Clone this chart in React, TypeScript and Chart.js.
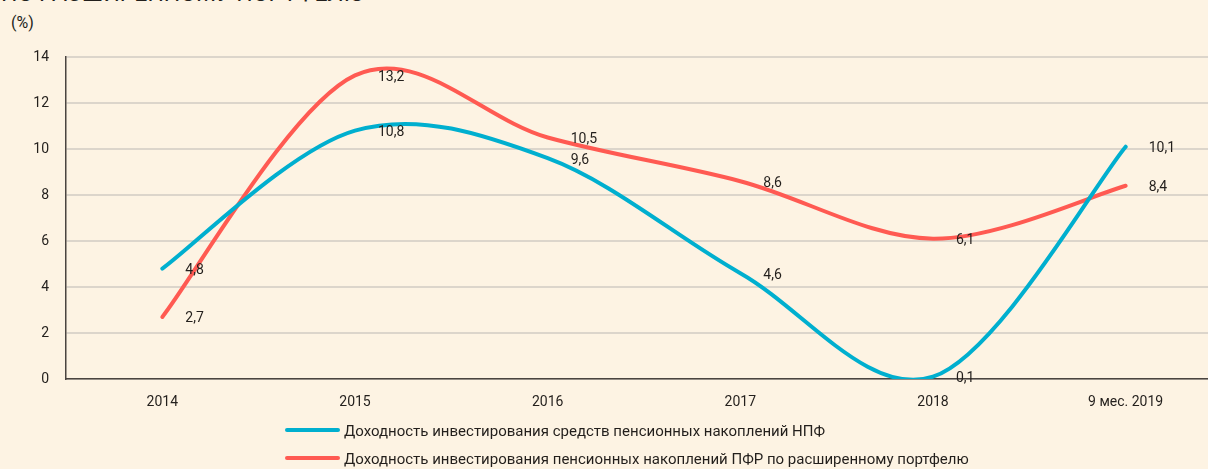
import React, { useEffect, useRef } from "react";
import { Chart, registerables } from "chart.js";

Chart.register(...registerables);

const categories = ["2014", "2015", "2016", "2017", "2018", "9 мес. 2019"];
const npfValues = [4.8, 10.8, 9.6, 4.6, 0.1, 10.1];
const pfrValues = [2.7, 13.2, 10.5, 8.6, 6.1, 8.4];
const seriesNames = [
  "Доходность инвестирования средств пенсионных накоплений НПФ",
  "Доходность инвестирования пенсионных накоплений ПФР по расширенному портфелю",
];
const seriesColors = ["#00AFCF", "#FF5A52"];
const yMin = 0;
const yMax = 14;
const yStep = 2;
const titleText = "ПО РАСШИРЕННОМУ ПОРТФЕЛЮ";
const unitText = "(%)";

const BG = "#FDF3E3";
const FONT = "Roboto, 'Noto Sans', sans-serif";

// Uniform Catmull-Rom smoothing (spreadsheet-style smoothed lines),
// applied to the points Chart.js has already placed on its scales.
const smoothLines = {
  id: "smoothLines",
  beforeDatasetsDraw(chart: any) {
    chart.data.datasets.forEach((_ds: any, i: number) => {
      const meta = chart.getDatasetMeta(i);
      const pts = meta.data;
      const n = pts.length;
      for (let j = 0; j < n; j++) {
        const p = pts[j];
        const prev = pts[Math.max(0, j - 1)];
        const next = pts[Math.min(n - 1, j + 1)];
        const tx = (next.x - prev.x) / 6;
        const ty = (next.y - prev.y) / 6;
        p.cp1x = p.x - tx;
        p.cp1y = p.y - ty;
        p.cp2x = p.x + tx;
        p.cp2y = p.y + ty;
      }
      if (meta.dataset) {
        meta.dataset._pointsUpdated = true;
        meta.dataset._path = undefined;
      }
    });
  },
};

const valueLabels = {
  id: "valueLabels",
  afterDatasetsDraw(chart: any) {
    const ctx = chart.ctx;
    ctx.save();
    ctx.font = `14px ${FONT}`;
    ctx.fillStyle = "#231F1C";
    ctx.textAlign = "left";
    ctx.textBaseline = "middle";
    chart.data.datasets.forEach((ds: any, i: number) => {
      const meta = chart.getDatasetMeta(i);
      meta.data.forEach((pt: any, j: number) => {
        const v = ds.data[j] as number;
        ctx.fillText(v.toFixed(1).replace(".", ","), pt.x + 23, pt.y + 2);
      });
    });
    ctx.restore();
  },
};

export default function App() {
  const ref = useRef<HTMLCanvasElement | null>(null);

  useEffect(() => {
    document.body.style.margin = "0";
    document.body.style.background = BG;
    const canvas = ref.current;
    if (!canvas) return;
    const lineStyle = {
      borderWidth: 4,
      tension: 0.4,
      pointRadius: 0,
      borderCapStyle: "round" as const,
      borderJoinStyle: "round" as const,
      fill: false,
    };
    const chart = new Chart(canvas, {
      type: "line",
      data: {
        labels: categories,
        datasets: [
          {
            label: seriesNames[0],
            data: npfValues,
            borderColor: seriesColors[0],
            backgroundColor: seriesColors[0],
            ...lineStyle,
          },
          {
            label: seriesNames[1],
            data: pfrValues,
            borderColor: seriesColors[1],
            backgroundColor: seriesColors[1],
            ...lineStyle,
          },
        ],
      },
      options: {
        responsive: false,
        animation: false,
        events: [],
        layout: { padding: { top: 57, bottom: 50, left: 0, right: 0 } },
        plugins: {
          legend: { display: false },
          tooltip: { enabled: false },
          title: { display: false },
        },
        scales: {
          x: {
            type: "category",
            offset: true,
            grid: { display: false, drawTicks: false },
            border: { display: true, color: "#4A4440", width: 1.5 },
            ticks: {
              padding: 15,
              color: "#231F1C",
              font: { family: FONT, size: 14 },
              maxRotation: 0,
              autoSkip: false,
            },
            afterFit: (scale: any) => {
              scale.height = 40;
            },
          },
          y: {
            min: yMin,
            max: yMax,
            ticks: {
              stepSize: yStep,
              padding: 17,
              color: "#231F1C",
              font: { family: FONT, size: 14 },
            },
            grid: { color: "#DCD5CB", lineWidth: 2, drawTicks: false },
            border: { display: true, color: "#4A4440", width: 1.5 },
            afterFit: (scale: any) => {
              scale.width = 66;
            },
          },
        },
      },
      plugins: [smoothLines, valueLabels],
    });
    return () => chart.destroy();
  }, []);

  return (
    <div
      style={{
        position: "fixed",
        left: 0,
        top: 0,
        width: 1208,
        height: 469,
        overflow: "hidden",
        background: BG,
        fontFamily: FONT,
        color: "#231F1C",
      }}
    >
      <div
        style={{
          position: "absolute",
          left: 1,
          top: -18,
          fontSize: 23,
          lineHeight: "24px",
          whiteSpace: "nowrap",
        }}
      >
        {titleText}
      </div>
      <div
        style={{
          position: "absolute",
          left: 11,
          top: 13,
          fontSize: 16,
          lineHeight: "20px",
        }}
      >
        {unitText}
      </div>
      <canvas
        ref={ref}
        width={1222}
        height={469}
        style={{ position: "absolute", left: 0, top: 0, width: 1222, height: 469 }}
      />
      {seriesNames.map((name, i) => (
        <div key={i}>
          <div
            style={{
              position: "absolute",
              left: 285,
              top: 428 + i * 27.7,
              width: 55,
              height: 4,
              borderRadius: 2,
              background: seriesColors[i],
            }}
          />
          <div
            style={{
              position: "absolute",
              left: 344,
              top: 421 + i * 27.7,
              fontSize: 15,
              lineHeight: "20px",
              whiteSpace: "nowrap",
            }}
          >
            {name}
          </div>
        </div>
      ))}
    </div>
  );
}
